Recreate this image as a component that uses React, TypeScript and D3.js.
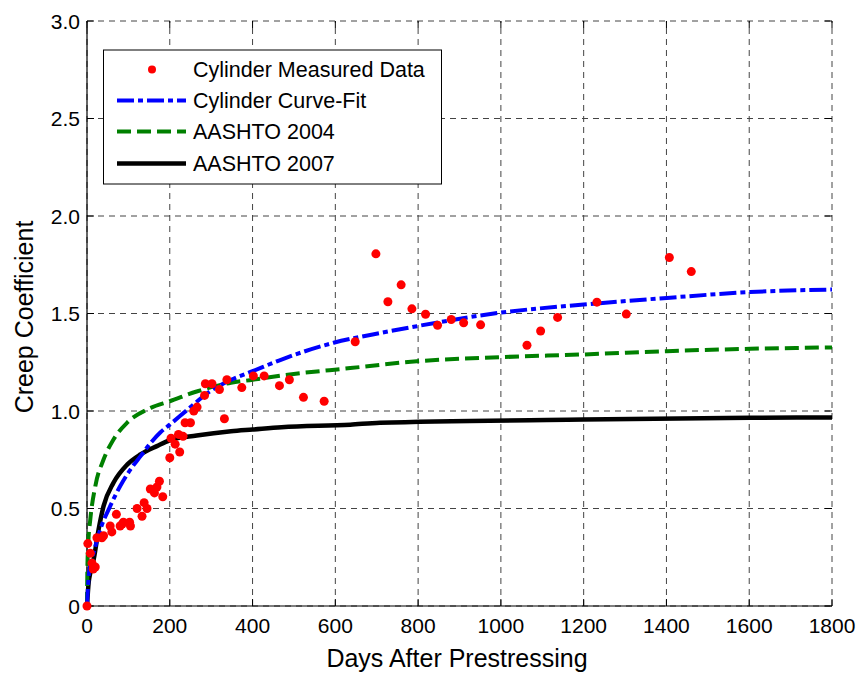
import React from "react";
import * as d3 from "d3";

// ---- data ----
const measuredDays = [0, 2, 8, 12, 15, 20, 24, 36, 40, 56, 60, 71, 80, 85, 88, 103, 105, 121, 133, 138, 145, 153, 163, 169, 175, 183, 200, 203, 213, 221, 224, 232, 237, 250, 258, 266, 284, 286, 302, 320, 332, 338, 374, 402, 428, 465, 489, 523, 573, 648, 698, 727, 759, 785, 818, 847, 880, 910, 951, 1063, 1096, 1137, 1232, 1303, 1407, 1460];
const measuredVals = [0, 0.32, 0.27, 0.22, 0.19, 0.2, 0.35, 0.35, 0.36, 0.41, 0.38, 0.47, 0.41, 0.42, 0.43, 0.43, 0.41, 0.5, 0.46, 0.53, 0.5, 0.6, 0.58, 0.61, 0.64, 0.56, 0.76, 0.86, 0.83, 0.88, 0.79, 0.87, 0.94, 0.94, 1.0, 1.02, 1.08, 1.14, 1.14, 1.11, 0.96, 1.16, 1.12, 1.18, 1.18, 1.13, 1.16, 1.07, 1.05, 1.355, 1.806, 1.56, 1.647, 1.524, 1.496, 1.44, 1.469, 1.452, 1.442, 1.337, 1.41, 1.48, 1.558, 1.497, 1.787, 1.715];

const fitDays = [0, 4, 8, 16, 32, 56, 80, 105, 130, 154, 177, 200, 243, 292, 348, 400, 470, 596, 708, 797, 998, 1200, 1401, 1602, 1800];
const fitVals = [0, 0.15, 0.21, 0.273, 0.392, 0.512, 0.614, 0.7, 0.77, 0.837, 0.89, 0.93, 1.007, 1.093, 1.16, 1.204, 1.264, 1.35, 1.4, 1.435, 1.504, 1.546, 1.58, 1.61, 1.623];

const a2004Days = [0, 1, 3, 8, 20, 40, 64, 97, 154, 200, 265, 348, 400, 470, 636, 797, 998, 1200, 1401, 1602, 1800];
const a2004Vals = [0, 0.2, 0.32, 0.444, 0.614, 0.751, 0.854, 0.94, 1.016, 1.05, 1.1, 1.145, 1.16, 1.182, 1.22, 1.255, 1.276, 1.29, 1.307, 1.319, 1.326];

const a2007Days = [0, 4, 8, 16, 28, 40, 64, 97, 129, 169, 200, 265, 348, 400, 470, 636, 708, 1200, 1602, 1800];
const a2007Vals = [0, 0.12, 0.17, 0.238, 0.392, 0.512, 0.632, 0.725, 0.777, 0.82, 0.85, 0.874, 0.896, 0.905, 0.917, 0.93, 0.94, 0.956, 0.965, 0.967];

const xTicks = [0, 200, 400, 600, 800, 1000, 1200, 1400, 1600, 1800];
const yTicks = [0, 0.5, 1.0, 1.5, 2.0, 2.5, 3.0];
const yTickLabels = ["0", "0.5", "1.0", "1.5", "2.0", "2.5", "3.0"];
const legendLabels = ["Cylinder Measured Data", "Cylinder Curve-Fit", "AASHTO 2004", "AASHTO 2007"];

const W = 862;
const H = 675;
const L = 87, R = 832, T = 21, B = 606;
const FONT = "'Liberation Sans', Arial, Helvetica, sans-serif";

export default function App() {
  const x = d3.scaleLinear().domain([0, 1800]).range([L, R]);
  const y = d3.scaleLinear().domain([0, 3]).range([B, T]);

  const line = d3
    .line<[number, number]>()
    .x((d) => x(d[0]))
    .y((d) => y(d[1]))
    .curve(d3.curveMonotoneX);

  const zip = (a: number[], b: number[]) => a.map((v, i) => [v, b[i]] as [number, number]);

  const fitPath = line(zip(fitDays, fitVals)) || "";
  const p2004 = line(zip(a2004Days, a2004Vals)) || "";
  const p2007 = line(zip(a2007Days, a2007Vals)) || "";

  const gridColor = "#444";
  const dash = "6,5";
  const tickLen = 7;

  const legendRows = [69.5, 100.5, 131.5, 163.5];

  return (
    <svg
      width={W}
      height={H}
      style={{ position: "absolute", left: 0, top: 0, background: "#fff" }}
      fontFamily={FONT}
    >
      <rect x={0} y={0} width={W} height={H} fill="#fff" />
      {/* grid */}
      {xTicks.map((t) => (
        <line key={"gx" + t} x1={x(t)} x2={x(t)} y1={B} y2={T} stroke={gridColor} strokeWidth={1} strokeDasharray={dash} />
      ))}
      {yTicks.map((t) => (
        <line key={"gy" + t} x1={L} x2={R} y1={y(t)} y2={y(t)} stroke={gridColor} strokeWidth={1} strokeDasharray={dash} />
      ))}
      {/* ticks */}
      {xTicks.map((t) => (
        <g key={"tx" + t}>
          <line x1={x(t)} x2={x(t)} y1={B} y2={B - tickLen} stroke="#000" strokeWidth={1} />
          <line x1={x(t)} x2={x(t)} y1={T} y2={T + tickLen} stroke="#000" strokeWidth={1} />
        </g>
      ))}
      {yTicks.map((t) => (
        <g key={"ty" + t}>
          <line x1={L} x2={L + tickLen} y1={y(t)} y2={y(t)} stroke="#000" strokeWidth={1} />
          <line x1={R} x2={R - tickLen} y1={y(t)} y2={y(t)} stroke="#000" strokeWidth={1} />
        </g>
      ))}
      {/* axes */}
      <line x1={L} x2={R} y1={B} y2={B} stroke="#000" strokeWidth={1.2} />
      <line x1={L} x2={L} y1={B} y2={T} stroke="#000" strokeWidth={1.2} />

      {/* curves */}
      <path d={p2007} fill="none" stroke="#000" strokeWidth={4.5} />
      <path d={p2004} fill="none" stroke="#008000" strokeWidth={4} strokeDasharray="14,6" />
      <path d={fitPath} fill="none" stroke="#0000ff" strokeWidth={4} strokeDasharray="17,4,5,4" />

      {/* measured points */}
      {measuredDays.map((d, i) => (
        <circle key={"m" + i} cx={x(d)} cy={y(measuredVals[i])} r={4.5} fill="#ff0000" />
      ))}

      {/* tick labels */}
      {xTicks.map((t) => (
        <text key={"lx" + t} x={x(t)} y={633} textAnchor="middle" fontSize={21} fill="#000">
          {t}
        </text>
      ))}
      {yTicks.map((t, i) => (
        <text key={"ly" + t} x={80} y={y(t)} textAnchor="end" dominantBaseline="central" fontSize={21} fill="#000">
          {yTickLabels[i]}
        </text>
      ))}

      {/* axis labels */}
      <text x={457} y={667} textAnchor="middle" fontSize={25} fill="#000">
        Days After Prestressing
      </text>
      <text transform="translate(33,317) rotate(-90)" textAnchor="middle" fontSize={25} fill="#000">
        Creep Coefficient
      </text>

      {/* legend */}
      <rect x={103.5} y={50} width={338} height={134} fill="#fff" stroke="#000" strokeWidth={1} />
      <circle cx={152} cy={legendRows[0]} r={4} fill="#ff0000" />
      <line x1={117} x2={186} y1={legendRows[1]} y2={legendRows[1]} stroke="#0000ff" strokeWidth={4} strokeDasharray="17,4,5,4" />
      <line x1={117} x2={186} y1={legendRows[2]} y2={legendRows[2]} stroke="#008000" strokeWidth={4} strokeDasharray="14,6" />
      <line x1={117} x2={186} y1={legendRows[3]} y2={legendRows[3]} stroke="#000" strokeWidth={4.5} />
      {legendLabels.map((lab, i) => (
        <text key={lab} x={193} y={legendRows[i]} dominantBaseline="central" fontSize={21.5} fill="#000">
          {lab}
        </text>
      ))}
    </svg>
  );
}
